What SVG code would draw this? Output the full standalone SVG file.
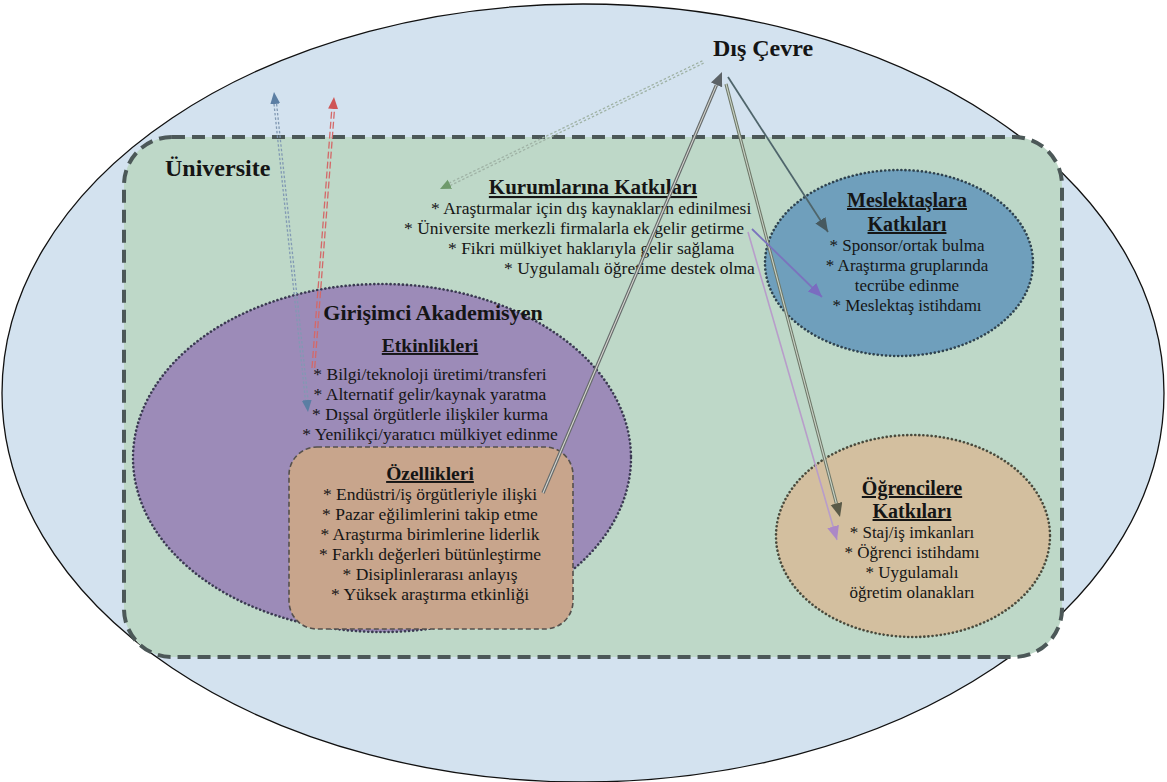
<svg xmlns="http://www.w3.org/2000/svg" width="1167" height="782" viewBox="0 0 1167 782">
<defs>
<style>
text{font-family:"Liberation Serif","Times New Roman",serif;fill:#151515}
.t{font-weight:bold}
.u{font-weight:bold;text-decoration:underline}
.b{font-size:17.5px}
.bs{font-size:17px}
.m{text-anchor:middle}
</style>
<marker id="mBlue" markerUnits="userSpaceOnUse" markerWidth="14" markerHeight="12" refX="12" refY="5" orient="auto-start-reverse"><path d="M0,0 L12,5 L0,10 z" fill="#5b7ea3"/></marker>
<marker id="mRed" markerUnits="userSpaceOnUse" markerWidth="14" markerHeight="12" refX="12" refY="5" orient="auto"><path d="M0,0 L12,5 L0,10 z" fill="#cf5656"/></marker>
<marker id="mGreen" markerUnits="userSpaceOnUse" markerWidth="14" markerHeight="12" refX="11" refY="5" orient="auto"><path d="M0,0 L11,5 L0,10 z" fill="#6f9a6c"/></marker>
<marker id="mDark" markerUnits="userSpaceOnUse" markerWidth="16" markerHeight="14" refX="14" refY="6" orient="auto"><path d="M0,0 L14,6 L0,12 z" fill="#5c6266"/></marker>
<marker id="mTeal" markerUnits="userSpaceOnUse" markerWidth="16" markerHeight="14" refX="14" refY="6" orient="auto"><path d="M0,0 L14,6 L0,12 z" fill="#47595f"/></marker>
<marker id="mOlive" markerUnits="userSpaceOnUse" markerWidth="16" markerHeight="14" refX="14" refY="6" orient="auto"><path d="M0,0 L14,6 L0,12 z" fill="#5a5a48"/></marker>
<marker id="mLav" markerUnits="userSpaceOnUse" markerWidth="16" markerHeight="14" refX="14" refY="6" orient="auto"><path d="M0,0 L14,6 L0,12 z" fill="#ac88c6"/></marker>
<marker id="mPur" markerUnits="userSpaceOnUse" markerWidth="16" markerHeight="14" refX="14" refY="6" orient="auto"><path d="M0,0 L14,6 L0,12 z" fill="#7a6cc0"/></marker>
</defs>
<rect width="1167" height="782" fill="#ffffff"/>

<g id="dis-cevre">
<ellipse cx="583" cy="393" rx="581" ry="389" fill="#d3e2ef" stroke="#111" stroke-width="1.3"/>
<text x="763" y="56" class="t m" font-size="24">Dış Çevre</text>
</g>

<g id="universite">
<rect x="124" y="137" width="938" height="520" rx="48" ry="48" fill="#bed8c8" stroke="#4c5858" stroke-width="4" stroke-dasharray="13 7"/>
<text x="165" y="176" class="t" font-size="24">Üniversite</text>
</g>

<g id="kurumlarina">
<text x="593" y="194" class="u m" font-size="21">Kurumlarına Katkıları</text>
<text x="431" y="214" class="b">* Araştırmalar için dış kaynakların edinilmesi</text>
<text x="404" y="234" class="b">* Üniversite merkezli firmalarla ek gelir getirme</text>
<text x="448" y="254" class="b">* Fikri mülkiyet haklarıyla gelir sağlama</text>
<text x="504" y="274" class="b">* Uygulamalı öğretime destek olma</text>
</g>

<g id="girisimci-akademisyen">
<ellipse cx="382" cy="458" rx="249" ry="174" fill="#9c8bb8" stroke="#3b3a52" stroke-width="2.6" stroke-dasharray="0.1 4" stroke-linecap="round"/>
<text x="433" y="320" class="t m" font-size="22">Girişimci Akademisyen</text>
<text x="430" y="352" class="u m" font-size="19.5">Etkinlikleri</text>
<text x="430" y="380" class="b m">* Bilgi/teknoloji üretimi/transferi</text>
<text x="430" y="400" class="b m">* Alternatif gelir/kaynak yaratma</text>
<text x="430" y="420" class="b m">* Dışsal örgütlerle ilişkiler kurma</text>
<text x="430" y="440" class="b m">* Yenilikçi/yaratıcı mülkiyet edinme</text>
</g>

<g id="ozellikleri">
<rect x="289" y="447" width="284" height="182" rx="28" ry="28" fill="#c8a58c" stroke="#55504c" stroke-width="1.6" stroke-dasharray="5 3"/>
<text x="430" y="480" class="u m" font-size="19.5">Özellikleri</text>
<text x="430" y="500" class="b m">* Endüstri/iş örgütleriyle ilişki</text>
<text x="430" y="520" class="b m">* Pazar eğilimlerini takip etme</text>
<text x="430" y="540" class="b m">* Araştırma birimlerine liderlik</text>
<text x="430" y="560" class="b m">* Farklı değerleri bütünleştirme</text>
<text x="430" y="580" class="b m">* Disiplinlerarası anlayış</text>
<text x="430" y="600" class="b m">* Yüksek araştırma etkinliği</text>
</g>

<g id="meslektaslara">
<ellipse cx="899" cy="263" rx="134" ry="93" fill="#6f9fbc" stroke="#2f4350" stroke-width="2.6" stroke-dasharray="0.1 4" stroke-linecap="round"/>
<text x="907" y="207" class="u m" font-size="20">Meslektaşlara</text>
<text x="907" y="231" class="u m" font-size="20">Katkıları</text>
<text x="907" y="251" class="bs m">* Sponsor/ortak bulma</text>
<text x="907" y="271" class="bs m">* Araştırma gruplarında</text>
<text x="907" y="291" class="bs m">tecrübe edinme</text>
<text x="907" y="311" class="bs m">* Meslektaş istihdamı</text>
</g>

<g id="ogrencilere">
<ellipse cx="913" cy="536" rx="137" ry="101" fill="#d3bf9f" stroke="#4a4a3c" stroke-width="2.6" stroke-dasharray="0.1 4" stroke-linecap="round"/>
<text x="912" y="495" class="u m" font-size="20">Öğrencilere</text>
<text x="912" y="518" class="u m" font-size="20">Katkıları</text>
<text x="912" y="538" class="bs m">* Staj/iş imkanları</text>
<text x="912" y="558" class="bs m">* Öğrenci istihdamı</text>
<text x="912" y="578" class="bs m">* Uygulamalı</text>
<text x="912" y="598" class="bs m">öğretim olanakları</text>
</g>

<g id="connectors" fill="none">
<!-- blue double dotted, both ends -->
<line x1="274.0" y1="104" x2="305.4" y2="400" stroke="#8199b3" stroke-width="1.3" stroke-dasharray="2.5 2"/>
<line x1="276.6" y1="104" x2="308.0" y2="400" stroke="#8199b3" stroke-width="1.3" stroke-dasharray="2.5 2"/>
<line x1="274" y1="92" x2="308" y2="412" stroke="none" marker-start="url(#mBlue)" marker-end="url(#mBlue)"/>
<!-- red double dashed, up arrow -->
<line x1="314.7" y1="368" x2="334.5" y2="109" stroke="#d46868" stroke-width="1.3" stroke-dasharray="7 3"/>
<line x1="312.0" y1="368" x2="331.8" y2="109" stroke="#d46868" stroke-width="1.3" stroke-dasharray="7 3"/>
<line x1="314" y1="368" x2="334" y2="97" stroke="none" marker-end="url(#mRed)"/>
<!-- green dotted from Dış Çevre to Kurumlarına -->
<line x1="703.6" y1="63.2" x2="450.5" y2="185.4" stroke="#9fb2a5" stroke-width="1.3" stroke-dasharray="2.5 2"/>
<line x1="702.4" y1="60.8" x2="449.3" y2="183.0" stroke="#9fb2a5" stroke-width="1.3" stroke-dasharray="2.5 2"/>
<line x1="703" y1="62" x2="440" y2="189" stroke="none" marker-end="url(#mGreen)"/>
<!-- Özellikleri to Dış Çevre, double line -->
<line x1="543" y1="493" x2="716.5" y2="84.9" stroke="#666b6b" stroke-width="3.4"/>
<line x1="543" y1="493" x2="716.5" y2="84.9" stroke="#d6d6d0" stroke-width="1.1"/>
<line x1="543" y1="493" x2="722" y2="72" stroke="none" marker-end="url(#mDark)"/>
<!-- Dış Çevre to Meslektaşlara -->
<line x1="728" y1="77" x2="828" y2="232" stroke="#4f656b" stroke-width="1.8" marker-end="url(#mTeal)"/>
<!-- Dış Çevre to Öğrencilere, double -->
<line x1="726" y1="84" x2="836.4" y2="503.5" stroke="#6e7768" stroke-width="3.2"/>
<line x1="726" y1="84" x2="836.4" y2="503.5" stroke="#c9d3c6" stroke-width="1.1"/>
<line x1="726" y1="84" x2="840" y2="517" stroke="none" marker-end="url(#mOlive)"/>
<!-- lavender to Öğrencilere -->
<line x1="748" y1="232" x2="837" y2="540" stroke="#b89dca" stroke-width="1.6" marker-end="url(#mLav)"/>
<!-- purple to Meslektaşlara -->
<line x1="752" y1="229" x2="822" y2="297" stroke="#7b73bd" stroke-width="1.8" marker-end="url(#mPur)"/>
</g>
</svg>
